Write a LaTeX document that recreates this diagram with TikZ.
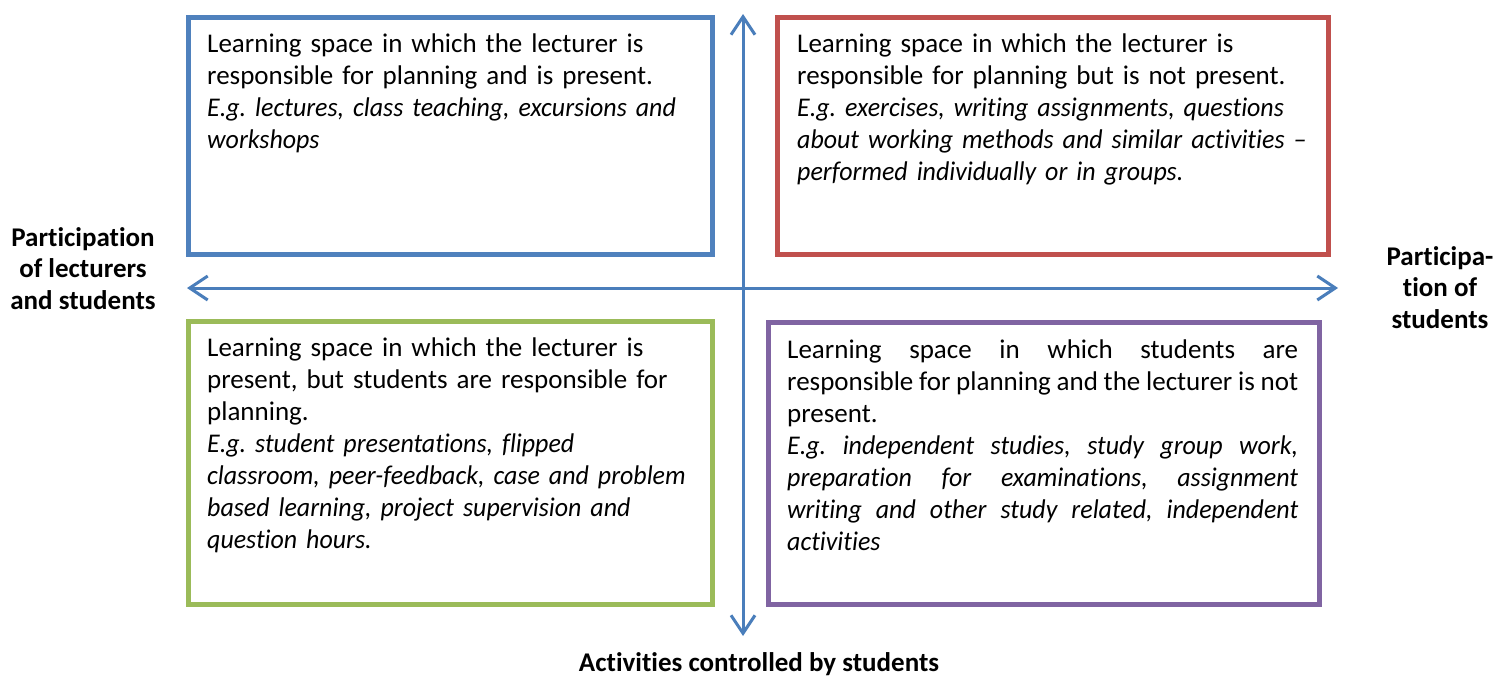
\documentclass[tikz,border=0pt]{standalone}
\usepackage{fontspec}
\setmainfont{Carlito}[Ligatures=NoCommon, ItalicFeatures={FakeStretch=0.96}]
\usetikzlibrary{arrows.meta}
\definecolor{qblue}{HTML}{4F81BD}
\definecolor{qred}{HTML}{C0504D}
\definecolor{qgreen}{HTML}{9BBB59}
\definecolor{qpurple}{HTML}{8064A2}
\definecolor{qaxis}{HTML}{4A7EBB}
\setlength\parindent{0pt}
\hyphenpenalty=10000
\exhyphenpenalty=10000
\frenchspacing
\begin{document}
\begin{tikzpicture}[x=1pt,y=-1pt,
  qbox/.style={draw, line width=5pt, rectangle, anchor=north west, inner sep=0pt},
  qtxt/.style={anchor=north west, inner sep=0pt, font=\fontsize{27}{32}\selectfont},
  qlab/.style={inner sep=0pt, align=center, font=\bfseries\fontsize{27}{31.5}\selectfont},
  qaxisline/.style={draw=qaxis, line width=3pt, {Straight Barb[length=18pt,width=24pt]}-{Straight Barb[length=18pt,width=24pt]}}]
\useasboundingbox (0,0) rectangle (1504,675);
% boxes
\node[qbox, draw=qblue, minimum width=524pt, minimum height=237pt] (tl) at (186,15) {};
\node[qbox, draw=qred, minimum width=551pt, minimum height=237pt] (tr) at (775,15) {};
\node[qbox, draw=qgreen, minimum width=524pt, minimum height=283pt] (bl) at (186,319) {};
\node[qbox, draw=qpurple, minimum width=551pt, minimum height=282pt] (br) at (766,320) {};
% texts
\node[qtxt, text width=498pt, align=left] (tlt) at (207,34) {Learning space in which the lecturer is\\ responsible for planning and is present.\\ \textit{E.g. lectures, class teaching, excursions and\\ workshops}};
\node[qtxt, text width=524pt, align=left] (trt) at (797,34) {Learning space in which the lecturer is\\ responsible for planning but is not present.\\ \textit{E.g. exercises, writing assignments, questions\\ about working methods and similar activities –\\ performed individually or in groups.}};
\node[qtxt, text width=498pt, align=left] (blt) at (207,338) {Learning space in which the lecturer is\\ present, but students are responsible for\\ planning.\\ \textit{E.g. student presentations, flipped\\ classroom, peer-feedback, case and problem\\ based learning, project supervision and\\ question hours.}};
\node[qtxt, text width=511pt, align=justify] (brt) at (787,340) {Learning space in which students are\linebreak responsible for planning and the lecturer is not\linebreak present.\newline \textit{E.g. independent studies, study group work,\linebreak preparation for examinations, assignment\linebreak writing and other study related, independent\linebreak activities}};
% axes
\coordinate (vt) at (743,14);
\coordinate (vb) at (743,636);
\coordinate (hl) at (187,288);
\coordinate (hr) at (1338,288);
\draw[qaxisline] (vb) -- (vt);
\draw[qaxisline] (hl) -- (hr);
% labels
\node[qlab, anchor=north] (ll) at (83,227) {Participation\\ of lecturers\\ and students};
\node[qlab, anchor=north] (rl) at (1440,246) {Participa-\\ tion of\\ students};
\node[qlab, anchor=base] (bt) at (759,671) {Activities controlled by students};
\end{tikzpicture}
\end{document}
